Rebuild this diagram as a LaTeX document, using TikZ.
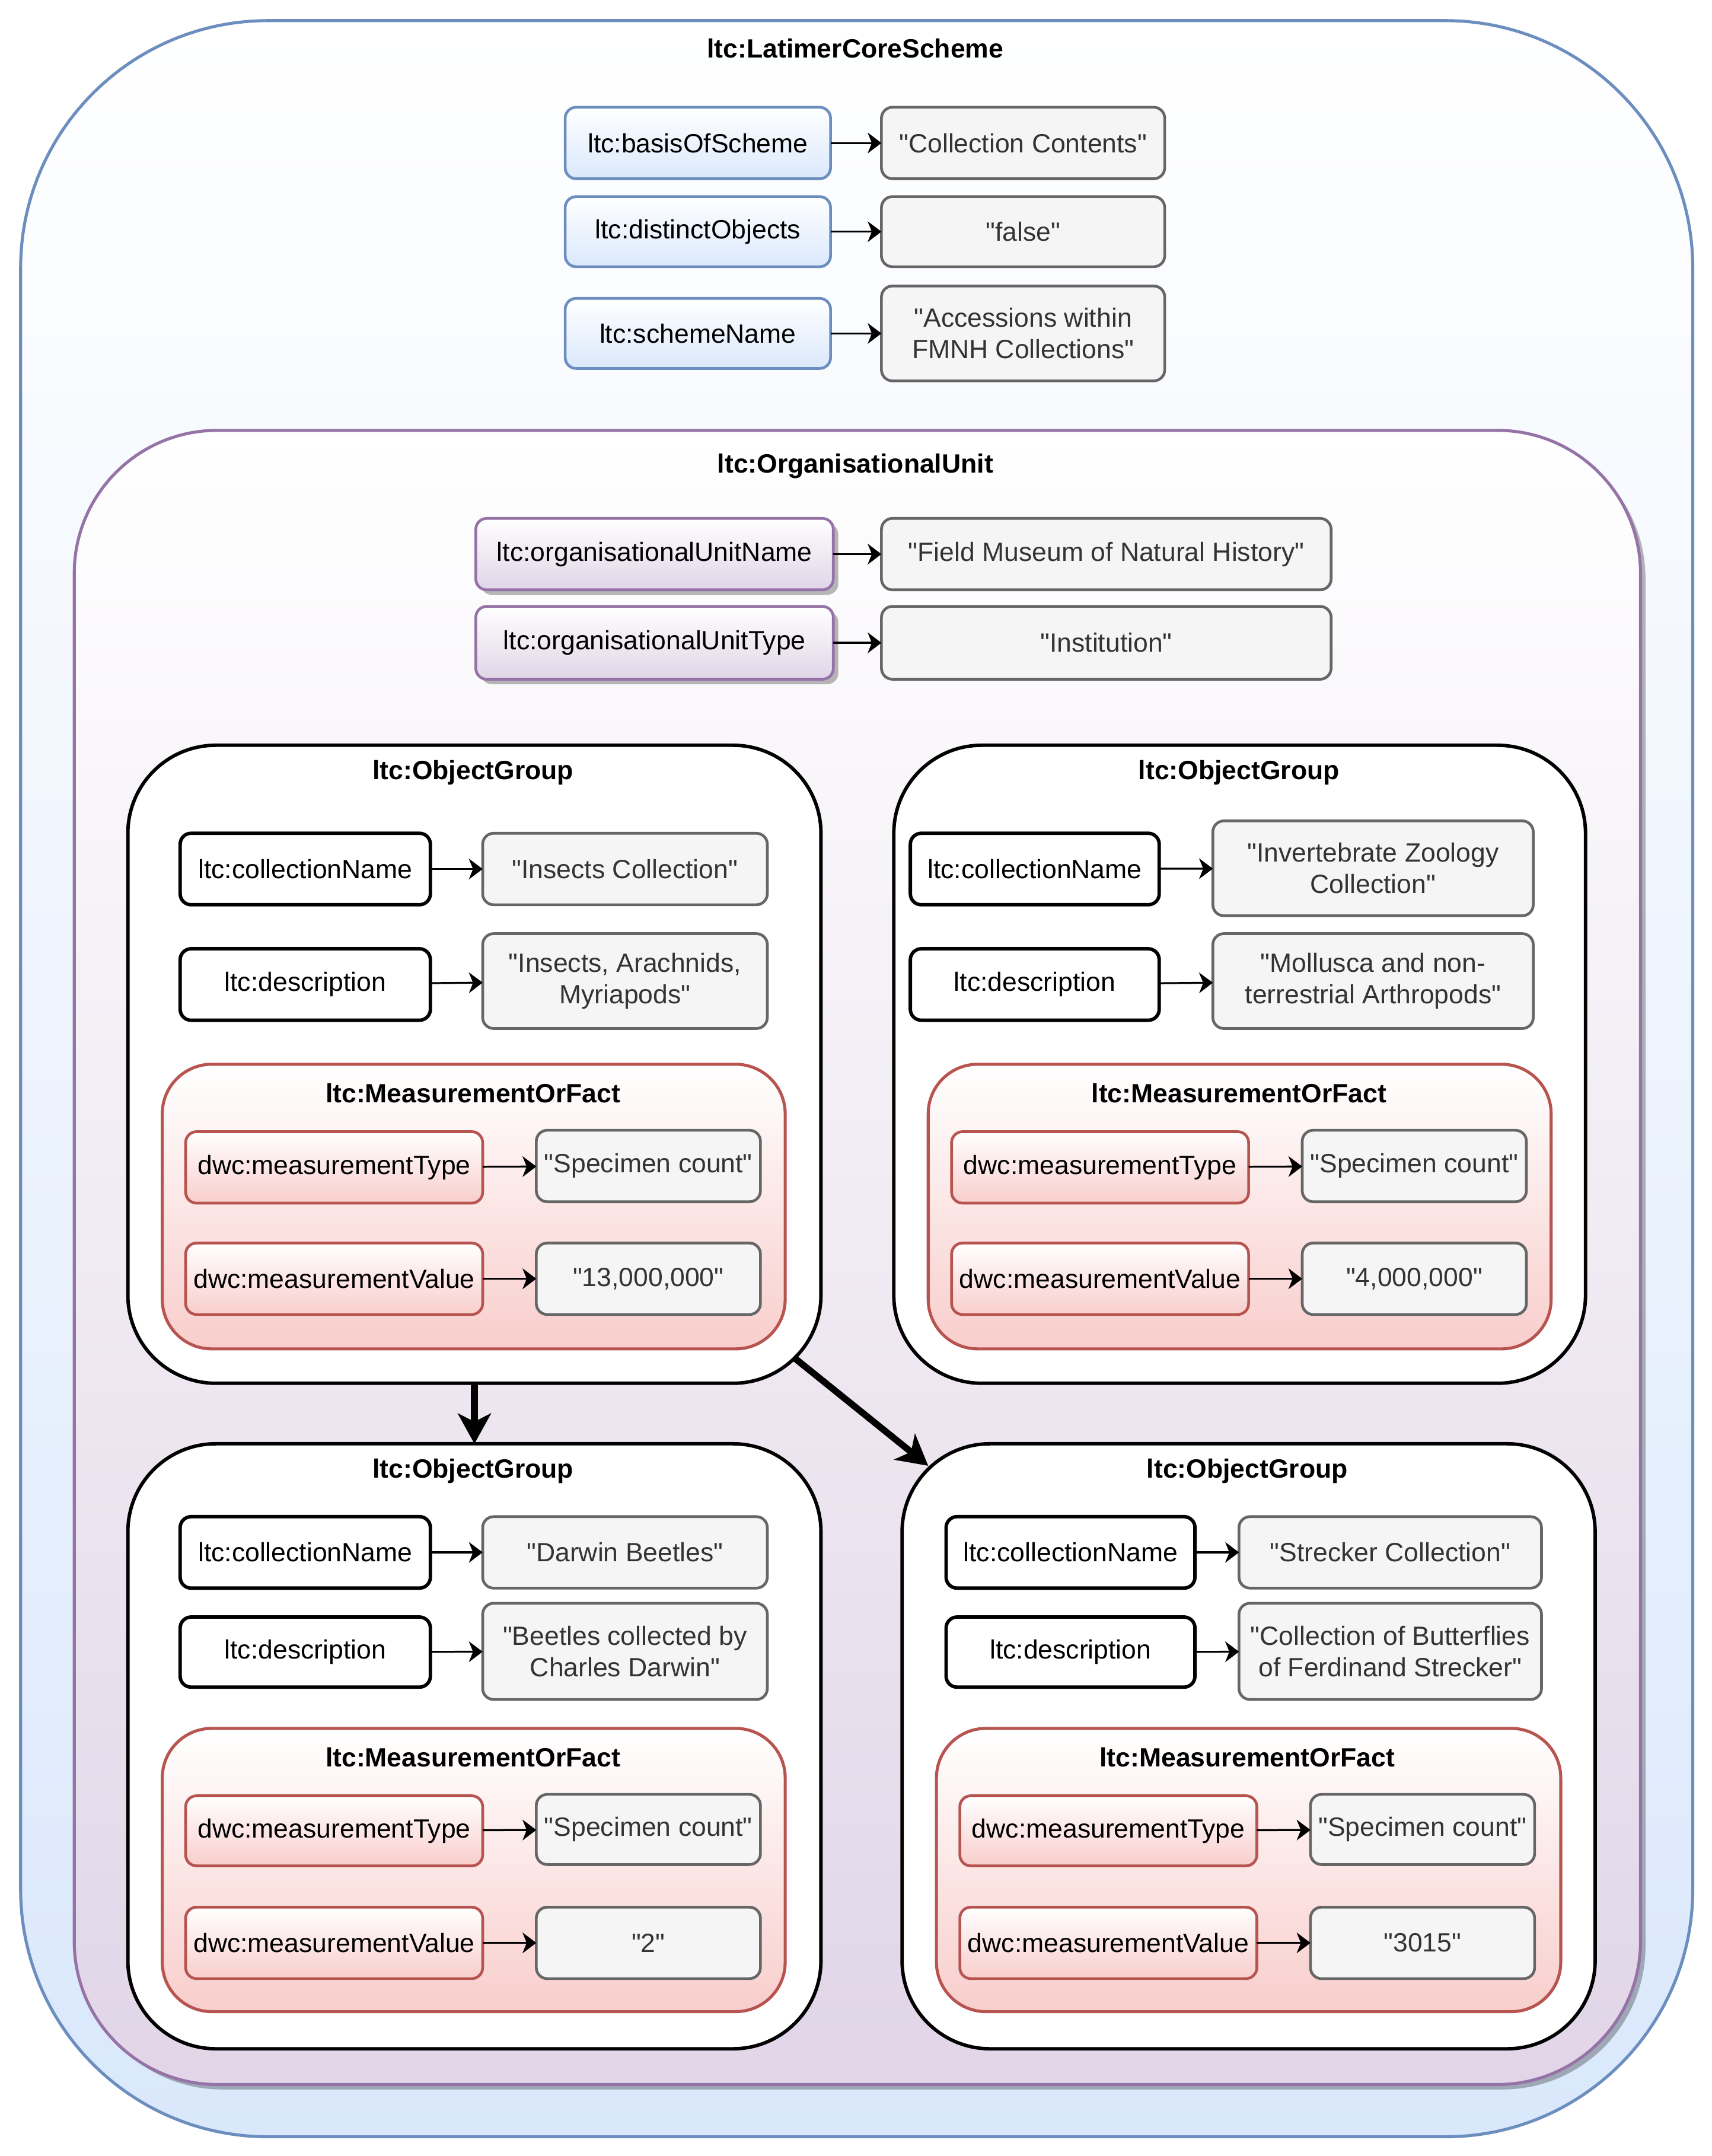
\documentclass[tikz,border=0pt]{standalone}
\usepackage{fontspec}
\setmainfont{Liberation Sans}[Ligatures=TeXOff]
\usetikzlibrary{shadows,arrows.meta}
\definecolor{blueB}{HTML}{6C8EBF}
\definecolor{blueF}{HTML}{DAE8FC}
\definecolor{purB}{HTML}{9673A6}
\definecolor{purF}{HTML}{E1D5E7}
\definecolor{redB}{HTML}{B85450}
\definecolor{redF}{HTML}{F8CECC}
\definecolor{grayB}{HTML}{666666}
\definecolor{grayF}{HTML}{F5F5F5}
\definecolor{grayT}{HTML}{333333}
\begin{document}
\begin{tikzpicture}[x=0.5pt,y=-0.5pt,
  box/.style n args={4}{at={({(#1+#3)/2},{(#2+#4)/2})},
    minimum width={(#3-#1)*0.5pt}, minimum height={(#4-#2)*0.5pt}},
  base/.style={inner sep=0pt, outer sep=0pt, align=center, anchor=center,
    font=\fontsize{9.6}{11.5}\selectfont, rounded corners=4pt},
  shd/.style={drop shadow={shadow xshift=1.8pt, shadow yshift=-1.8pt, fill=black, opacity=0.28}},
  bprop/.style={base, draw=blueB, line width=1pt, top color=white, bottom color=blueF},
  pprop/.style={base, draw=purB, line width=1pt, top color=white, bottom color=purF, shd},
  rprop/.style={base, draw=redB, line width=1pt, top color=white, bottom color=redF},
  kprop/.style={base, draw=black, line width=1.25pt, fill=white},
  val/.style={base, draw=grayB, line width=1pt, fill=grayF, text=grayT},
  outerbox/.style={base, draw=blueB, line width=1.1pt, top color=white, bottom color=blueF, rounded corners=90pt},
  orgbox/.style={base, draw=purB, line width=1.1pt, top color=white, bottom color=purF, rounded corners=52pt, shd},
  ogbox/.style={base, draw=black, line width=1.25pt, fill=white, rounded corners=32pt},
  mofbox/.style={base, draw=redB, line width=1.1pt, top color=white, bottom color=redF, rounded corners=18pt},
  ttl/.style={font=\bfseries\fontsize{9.6}{11.5}\selectfont, inner sep=0pt},
  lnk/.style={-{Stealth[length=5pt,width=7.5pt,inset=1.5pt]}, line width=0.7pt},
  big/.style={-{Stealth[length=11pt,width=12pt,inset=3pt]}, line width=2.4pt},
]
\useasboundingbox (0,0) rectangle (1245,1568);
\fill[white] (0,0) rectangle (1245,1568);

% outer scheme
\node[outerbox, box={15}{15}{1231}{1554}] (outer) {};
\node[ttl] (touter) at (622,35) {ltc:LatimerCoreScheme};

\node[bprop, box={411}{78}{604}{130}] (bos) {ltc:basisOfScheme};
\node[val, box={641}{78}{847}{130}] (vbos) {"Collection Contents"};
\node[bprop, box={411}{143}{604}{194}] (dob) {ltc:distinctObjects};
\node[val, box={641}{143}{847}{194}] (vdob) {"false"};
\node[bprop, box={411}{217}{604}{268}] (sn) {ltc:schemeName};
\node[val, box={641}{208}{847}{277}] (vsn) {"Accessions within\\FMNH Collections"};
\draw[lnk] (bos) -- (vbos);
\draw[lnk] (dob) -- (vdob);
\draw[lnk] (sn) -- (vsn);

% organisational unit
\node[orgbox, box={54}{313}{1193}{1516}] (org) {};
\node[ttl] (torg) at (622,339) {ltc:OrganisationalUnit};
\node[pprop, box={346}{377}{606}{429}] (oun) {ltc:organisationalUnitName};
\node[val, box={641}{377}{968}{429}] (voun) {"Field Museum of Natural History"};
\node[pprop, box={346}{441}{606}{494}] (out) {ltc:organisationalUnitType};
\node[val, box={641}{441}{968}{494}] (vout) {"Institution"};
\draw[lnk] (oun) -- (voun);
\draw[lnk] (out) -- (vout);

% ---------- Object group 1 ----------
\node[ogbox, box={93}{542}{597}{1006}] (og1) {};
\node[ttl] (tog1) at (344,562) {ltc:ObjectGroup};
\node[kprop, box={131}{606}{313}{658}] (cn1) {ltc:collectionName};
\node[val, box={351}{606}{558}{658}] (vcn1) {"Insects Collection"};
\node[kprop, box={131}{690}{313}{742}] (de1) {ltc:description};
\node[val, box={351}{679}{558}{748}] (vde1) {"Insects, Arachnids,\\Myriapods"};
\draw[lnk] (cn1) -- (vcn1);
\draw[lnk] (de1) -- (vde1);
\node[mofbox, box={118}{774}{571}{981}] (mof1) {};
\node[ttl] (tmof1) at (344,795) {ltc:MeasurementOrFact};
\node[rprop, box={135}{823}{351}{875}] (mt1) {dwc:measurementType};
\node[val, box={390}{822}{553}{874}] (vmt1) {"Specimen count"};
\node[rprop, box={135}{904}{351}{956}] (mv1) {dwc:measurementValue};
\node[val, box={390}{904}{553}{956}] (vmv1) {"13,000,000"};
\draw[lnk] (mt1) -- (vmt1);
\draw[lnk] (mv1) -- (vmv1);

% ---------- Object group 2 ----------
\node[ogbox, box={650}{542}{1153}{1006}] (og2) {};
\node[ttl] (tog2) at (901,562) {ltc:ObjectGroup};
\node[kprop, box={662}{606}{843}{658}] (cn2) {ltc:collectionName};
\node[val, box={882}{597}{1115}{666}] (vcn2) {"Invertebrate Zoology\\Collection"};
\node[kprop, box={662}{690}{843}{742}] (de2) {ltc:description};
\node[val, box={882}{679}{1115}{748}] (vde2) {"Mollusca and non-\\terrestrial Arthropods"};
\draw[lnk] (cn2) -- (vcn2);
\draw[lnk] (de2) -- (vde2);
\node[mofbox, box={675}{774}{1128}{981}] (mof2) {};
\node[ttl] (tmof2) at (901,795) {ltc:MeasurementOrFact};
\node[rprop, box={692}{823}{908}{875}] (mt2) {dwc:measurementType};
\node[val, box={947}{822}{1110}{874}] (vmt2) {"Specimen count"};
\node[rprop, box={692}{904}{908}{956}] (mv2) {dwc:measurementValue};
\node[val, box={947}{904}{1110}{956}] (vmv2) {"4,000,000"};
\draw[lnk] (mt2) -- (vmt2);
\draw[lnk] (mv2) -- (vmv2);

% ---------- Object group 3 ----------
\node[ogbox, box={93}{1050}{597}{1490}] (og3) {};
\node[ttl] (tog3) at (344,1070) {ltc:ObjectGroup};
\node[kprop, box={131}{1103}{313}{1155}] (cn3) {ltc:collectionName};
\node[val, box={351}{1103}{558}{1155}] (vcn3) {"Darwin Beetles"};
\node[kprop, box={131}{1176}{313}{1227}] (de3) {ltc:description};
\node[val, box={351}{1166}{558}{1236}] (vde3) {"Beetles collected by\\Charles Darwin"};
\draw[lnk] (cn3) -- (vcn3);
\draw[lnk] (de3) -- (vde3);
\node[mofbox, box={118}{1257}{571}{1463}] (mof3) {};
\node[ttl] (tmof3) at (344,1278) {ltc:MeasurementOrFact};
\node[rprop, box={135}{1306}{351}{1357}] (mt3) {dwc:measurementType};
\node[val, box={390}{1305}{553}{1356}] (vmt3) {"Specimen count"};
\node[rprop, box={135}{1387}{351}{1439}] (mv3) {dwc:measurementValue};
\node[val, box={390}{1387}{553}{1439}] (vmv3) {"2"};
\draw[lnk] (mt3) -- (vmt3);
\draw[lnk] (mv3) -- (vmv3);

% ---------- Object group 4 ----------
\node[ogbox, box={656}{1050}{1160}{1490}] (og4) {};
\node[ttl] (tog4) at (907,1070) {ltc:ObjectGroup};
\node[kprop, box={688}{1103}{869}{1155}] (cn4) {ltc:collectionName};
\node[val, box={901}{1103}{1121}{1155}] (vcn4) {"Strecker Collection"};
\node[kprop, box={688}{1176}{869}{1227}] (de4) {ltc:description};
\node[val, box={901}{1166}{1121}{1236}] (vde4) {"Collection of Butterflies\\of Ferdinand Strecker"};
\draw[lnk] (cn4) -- (vcn4);
\draw[lnk] (de4) -- (vde4);
\node[mofbox, box={681}{1257}{1135}{1463}] (mof4) {};
\node[ttl] (tmof4) at (907,1278) {ltc:MeasurementOrFact};
\node[rprop, box={698}{1306}{914}{1357}] (mt4) {dwc:measurementType};
\node[val, box={953}{1305}{1116}{1356}] (vmt4) {"Specimen count"};
\node[rprop, box={698}{1387}{914}{1439}] (mv4) {dwc:measurementValue};
\node[val, box={953}{1387}{1116}{1439}] (vmv4) {"3015"};
\draw[lnk] (mt4) -- (vmt4);
\draw[lnk] (mv4) -- (vmv4);

% ---------- links between object groups ----------
\draw[big] (og1.south) -- (og3.north);
\coordinate (d1) at (577,987);
\coordinate (d2) at (675,1066);
\draw[big] (d1) -- (d2);
\end{tikzpicture}
\end{document}
